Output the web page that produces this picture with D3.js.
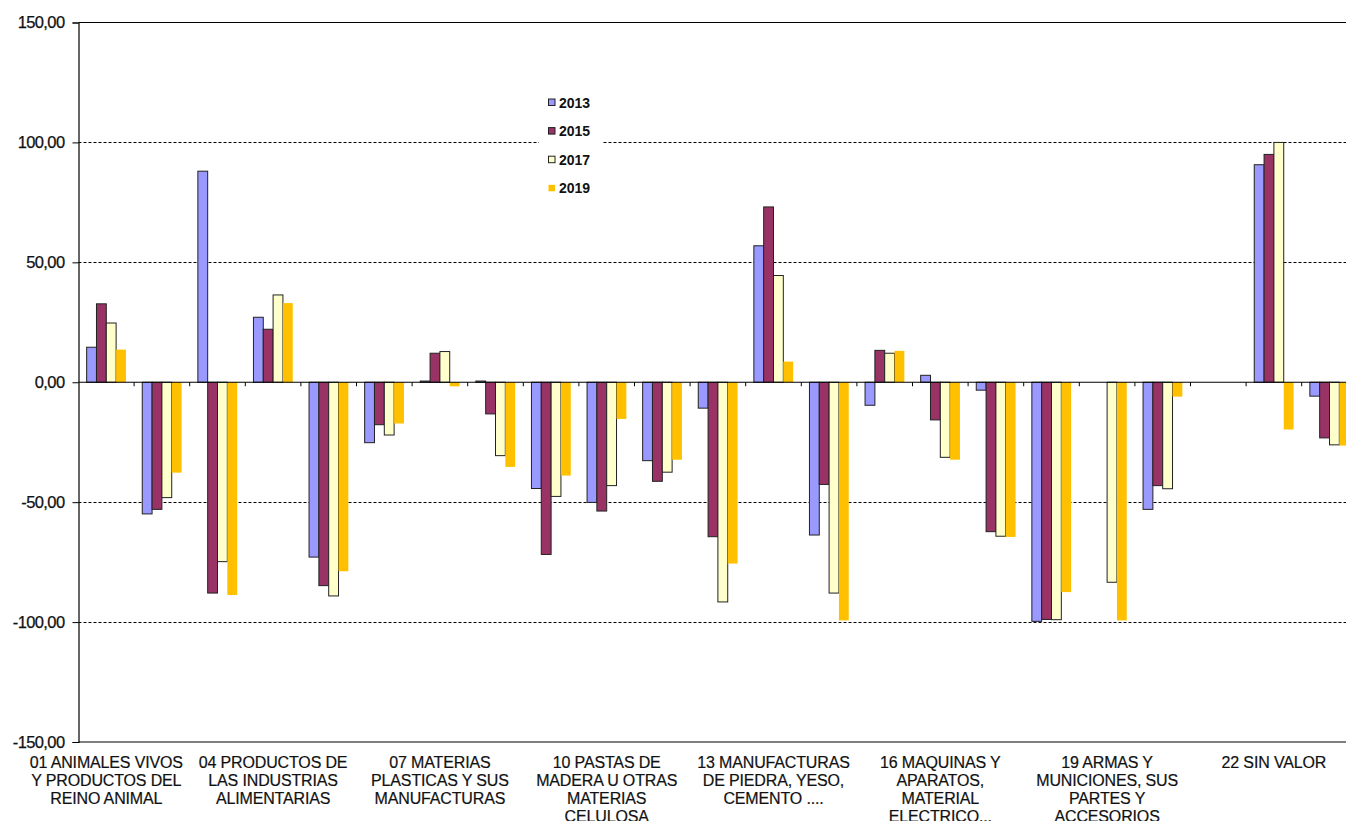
<!DOCTYPE html>
<html>
<head>
<meta charset="utf-8">
<script src="https://cdn.jsdelivr.net/npm/d3@7"></script>
<style>
  html, body { margin: 0; padding: 0; background: #fff; overflow: hidden; }
  svg { display: block; font-family: "Liberation Sans", Arial, sans-serif; }
</style>
</head>
<body>
<svg id="chart" width="1346" height="821"></svg>
<script>
// ---- data ----
const categories = [
  "01 ANIMALES VIVOS Y PRODUCTOS DEL REINO ANIMAL",
  "02 PRODUCTOS DEL REINO VEGETAL",
  "03 GRASAS Y ACEITES ANIMALES O VEGETALES",
  "04 PRODUCTOS DE LAS INDUSTRIAS ALIMENTARIAS",
  "05 PRODUCTOS MINERALES",
  "06 PRODUCTOS DE LAS INDUSTRIAS QUIMICAS",
  "07 MATERIAS PLASTICAS Y SUS MANUFACTURAS",
  "08 PIELES, CUEROS, PELETERIA ...",
  "09 MADERA, CARBON VEGETAL ...",
  "10 PASTAS DE MADERA U OTRAS MATERIAS CELULOSA",
  "11 MATERIAS TEXTILES Y SUS MANUFACTURAS",
  "12 CALZADO, SOMBREROS ...",
  "13 MANUFACTURAS DE PIEDRA, YESO, CEMENTO ....",
  "14 PERLAS FINAS, PIEDRAS PRECIOSAS ...",
  "15 METALES COMUNES Y SUS MANUFACTURAS",
  "16 MAQUINAS Y APARATOS, MATERIAL ELECTRICO...",
  "17 MATERIAL DE TRANSPORTE",
  "18 INSTRUMENTOS Y APARATOS DE OPTICA ...",
  "19 ARMAS Y MUNICIONES, SUS PARTES Y ACCESORIOS",
  "20 MERCANCIAS Y PRODUCTOS DIVERSOS",
  "21 OBJETOS DE ARTE ...",
  "22 SIN VALOR",
  "TOTAL"
];

// tick labels shown under the axis (every third category), lines split by "\n"
const xTickLabels = [
  "01 ANIMALES VIVOS\nY PRODUCTOS DEL\nREINO ANIMAL", "", "",
  "04 PRODUCTOS DE\nLAS INDUSTRIAS\nALIMENTARIAS", "", "",
  "07 MATERIAS\nPLASTICAS Y SUS\nMANUFACTURAS", "", "",
  "10 PASTAS DE\nMADERA U OTRAS\nMATERIAS\nCELULOSA", "", "",
  "13 MANUFACTURAS\nDE PIEDRA, YESO,\nCEMENTO ....", "", "",
  "16 MAQUINAS Y\nAPARATOS,\nMATERIAL\nELECTRICO...", "", "",
  "19 ARMAS Y\nMUNICIONES, SUS\nPARTES Y\nACCESORIOS", "", "",
  "22 SIN VALOR", ""
];

const seriesNames = ["2013", "2015", "2017", "2019"];

const values2013 = [14.6, -54.9, 88.0, 27.1, -72.9, -25.2, 0.5, 0.5, -44.3, -50.1, -32.7, -10.8, 56.9, -63.7, -9.6, 2.9, -3.3, -99.7, null, -53.0, null, 90.7, -5.8];
const values2015 = [32.7, -53.0, -87.9, 22.1, -84.8, -17.7, 12.1, -13.2, -71.8, -53.7, -41.3, -64.4, 73.1, -42.6, 13.3, -15.7, -62.3, -98.9, null, -43.1, null, 95.0, -23.2];
const values2017 = [24.7, -48.1, -74.8, 36.4, -89.1, -22.0, 12.8, -30.6, -47.6, -43.1, -37.5, -91.6, 44.5, -87.9, 12.1, -31.3, -64.2, -99.0, -83.4, -44.4, null, 100.0, -26.1];
const values2019 = [13.6, -37.7, -88.7, 33.0, -78.8, -17.2, -1.7, -35.3, -38.9, -15.3, -32.3, -75.6, 8.6, -99.3, 13.1, -32.3, -64.5, -87.5, -99.3, -6.0, null, -19.7, -26.4];

const yTicks = [-150, -100, -50, 0, 50, 100, 150];
const gridValues = [-100, -50, 50, 100];

// ---- styles ----
const fills = ["#9999FF", "#993366", "#FFFFCC", "#FFC000"];
const strokes = ["#222", "#222", "#222", "none"];

const seriesValues = [values2013, values2015, values2017, values2019];

const svg = d3.select("#chart");
const plotLeft = 78.5, plotTop = 22.5, plotBottom = 742, band = 55.6;
const plotRight = plotLeft + band * categories.length;

const x0 = d3.scaleBand().domain(d3.range(categories.length)).range([plotLeft, plotRight]).padding(0);
const x1 = d3.scaleBand().domain(seriesNames).range([0, x0.bandwidth()]).paddingInner(0).paddingOuter(0.83);
const y = d3.scaleLinear().domain([-150, 150]).range([plotBottom, plotTop]);

// gridlines
svg.append("g").selectAll("line").data(gridValues).join("line")
  .attr("x1", plotLeft).attr("x2", plotRight)
  .attr("y1", d => Math.round(y(d)) + 0.5).attr("y2", d => Math.round(y(d)) + 0.5)
  .attr("stroke", "#000").attr("stroke-width", 1).attr("stroke-dasharray", "3,2");

// frame (top & bottom)
svg.append("line").attr("x1", plotLeft).attr("x2", plotRight).attr("y1", plotTop).attr("y2", plotTop).attr("stroke", "#000").attr("stroke-width", 1.2);
svg.append("line").attr("x1", plotLeft).attr("x2", plotRight).attr("y1", plotBottom).attr("y2", plotBottom).attr("stroke", "#000").attr("stroke-width", 1.2);

// bars
const barData = [];
seriesNames.forEach((s, si) => {
  seriesValues[si].forEach((v, i) => {
    if (v !== null && v !== undefined) barData.push({ s, si, i, v });
  });
});
svg.append("g").selectAll("rect").data(barData).join("rect")
  .attr("x", d => x0(d.i) + x1(d.s))
  .attr("width", x1.bandwidth())
  .attr("y", d => y(Math.max(0, d.v)))
  .attr("height", d => Math.abs(y(d.v) - y(0)))
  .attr("fill", d => fills[d.si])
  .attr("stroke", d => strokes[d.si])
  .attr("stroke-width", 1);

// zero axis with category boundary ticks
svg.append("line").attr("x1", plotLeft).attr("x2", plotRight).attr("y1", y(0)).attr("y2", y(0)).attr("stroke", "#000").attr("stroke-width", 1.2);
svg.append("g").selectAll("line").data(d3.range(1, categories.length)).join("line")
  .attr("x1", d => x0(d)).attr("x2", d => x0(d))
  .attr("y1", y(0)).attr("y2", y(0) + 4)
  .attr("stroke", "#000").attr("stroke-width", 1);

// y axis
const yAxis = d3.axisLeft(y).tickValues(yTicks).tickSize(6).tickPadding(8)
  .tickFormat(d => d3.format(".2f")(d).replace(".", ",").replace("−", "-"));
const gy = svg.append("g").attr("transform", `translate(${plotLeft},0)`).call(yAxis);
gy.select(".domain").attr("stroke", "#000").attr("stroke-width", 1.2);
gy.selectAll(".tick line").attr("stroke", "#000");
gy.selectAll(".tick text").attr("fill", "#111").attr("font-size", 16.5)
  .attr("letter-spacing", -0.6)
  .attr("stroke", "#111").attr("stroke-width", 0.25)
  .attr("font-family", "'Liberation Sans', Arial, sans-serif");

// x labels (bottom)
const labelG = svg.append("g");
xTickLabels.forEach((lab, i) => {
  if (!lab) return;
  const cx = x0(i) + x0.bandwidth() / 2;
  const t = labelG.append("text")
    .attr("x", cx)
    .attr("y", plotBottom + 26)
    .attr("text-anchor", "middle")
    .attr("font-size", 16)
    .attr("letter-spacing", -0.15)
    .attr("fill", "#111")
    .attr("stroke", "#111").attr("stroke-width", 0.2);
  lab.split("\n").forEach((line, k) => {
    t.append("tspan").attr("x", cx).attr("dy", k === 0 ? 0 : 18).text(line);
  });
});

// legend
const lg = svg.append("g");
lg.append("rect").attr("x", 539).attr("y", 88).attr("width", 63).attr("height", 114).attr("fill", "#fff");
seriesNames.forEach((s, si) => {
  const cy = 102.5 + si * 28.6;
  lg.append("rect").attr("x", 548.5).attr("y", cy - 3.5).attr("width", 6.5).attr("height", 6.5)
    .attr("fill", fills[si]).attr("stroke", strokes[si]).attr("stroke-width", 1);
  lg.append("text").attr("x", 559).attr("y", cy + 5).attr("font-size", 14).attr("font-weight", "bold")
    .attr("fill", "#111").text(s);
});
</script>
</body>
</html>
